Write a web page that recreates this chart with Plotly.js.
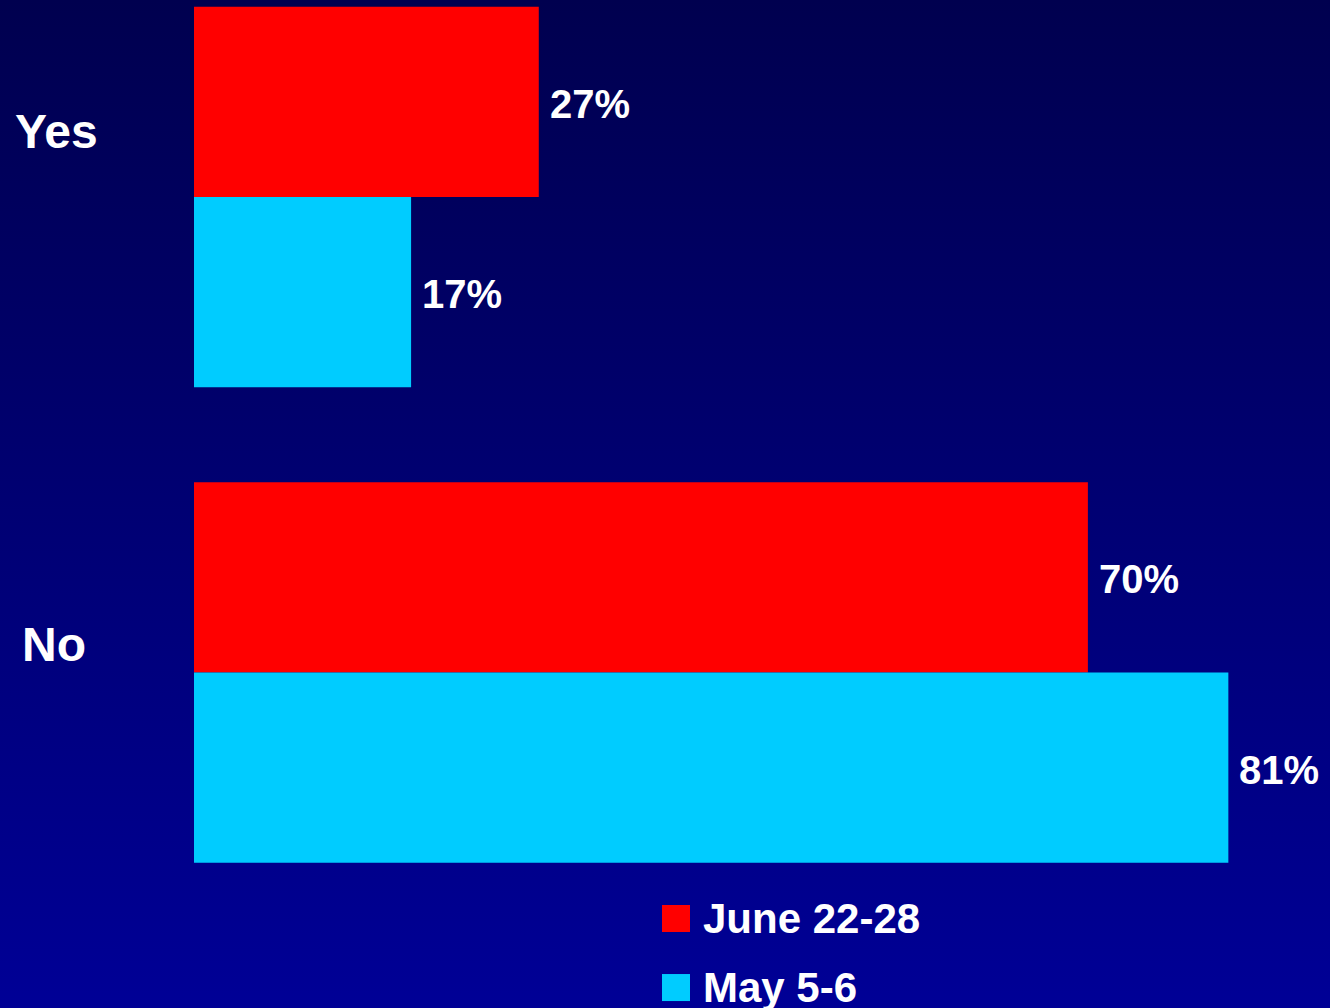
<!DOCTYPE html>
<html>
<head>
<meta charset="utf-8">
<script src="https://cdn.plot.ly/plotly-3.0.1.min.js"></script>
<style>
  html, body { margin: 0; padding: 0; }
  body { width: 1330px; height: 1008px; overflow: hidden; }
  #chart { width: 1330px; height: 1008px; background: linear-gradient(to bottom, #00004F 0%, #000096 100%); }
</style>
</head>
<body>
<div id="chart"></div>
<script>
// ---- data ----
const categories = ['Yes', 'No'];
const seriesNames = ['June 22-28', 'May 5-6'];
const juneValues = [27, 70];
const mayValues = [17, 81];
const seriesColors = ['#FF0000', '#00CCFF'];

const seriesValues = [juneValues, mayValues];
const FONT = 'Arial, "Liberation Sans", sans-serif';

const traces = seriesValues.map((vals, i) => ({
  type: 'bar',
  orientation: 'h',
  name: seriesNames[i],
  y: categories,
  x: vals,
  marker: { color: seriesColors[i], line: { width: 0 } },
  showlegend: false,
  hoverinfo: 'skip'
}));

const annotations = [];
// value labels, placed at each bar end through the axes
const offsets = [-0.2, 0.2];
seriesValues.forEach((vals, s) => {
  vals.forEach((v, c) => {
    annotations.push({
      x: v, y: c + offsets[s], xref: 'x', yref: 'y',
      text: v + '%', showarrow: false,
      xanchor: 'left', yanchor: 'middle', xshift: 9, yshift: -2,
      font: { family: FONT, size: 40, color: '#FFFFFF', weight: 'bold' }
    });
  });
});
// category labels
const catX = [-0.1595, -0.1530];
const catShift = [66, 28];
categories.forEach((c, i) => {
  annotations.push({
    x: catX[i], y: c, xref: 'paper', yref: 'y',
    text: c, showarrow: false, xanchor: 'left', yanchor: 'middle', yshift: catShift[i],
    font: { family: FONT, size: 48, color: '#FFFFFF', weight: 'bold' }
  });
});
// custom legend
const legY = [[0.0754, 0.1022], [0.0069, 0.0337]];
const shapes = [];
seriesNames.forEach((n, i) => {
  shapes.push({
    type: 'rect', xref: 'paper', yref: 'paper',
    x0: 0.41197, x1: 0.43662, y0: legY[i][0], y1: legY[i][1],
    fillcolor: seriesColors[i], line: { width: 0 }
  });
  annotations.push({
    x: 0.4463, y: (legY[i][0] + legY[i][1]) / 2, xref: 'paper', yref: 'paper',
    text: n, showarrow: false, xanchor: 'left', yanchor: 'middle',
    font: { family: FONT, size: 42, color: '#FFFFFF', weight: 'bold' }
  });
});

const layout = {
  width: 1330, height: 1008,
  margin: { l: 194, r: 0, t: 0, b: 0, pad: 0 },
  paper_bgcolor: 'rgba(0,0,0,0)',
  plot_bgcolor: 'rgba(0,0,0,0)',
  barmode: 'group',
  bargap: 0.2,
  bargroupgap: 0,
  showlegend: false,
  xaxis: { range: [0, 88.96], showgrid: false, zeroline: false, showticklabels: false, showline: false, ticks: '' },
  yaxis: { type: 'category', range: [1.7056, -0.4143], showgrid: false, zeroline: false, showticklabels: false, showline: false, ticks: '' },
  annotations: annotations,
  shapes: shapes,
  font: { family: FONT, color: '#FFFFFF' }
};

Plotly.newPlot('chart', traces, layout, { displayModeBar: false, staticPlot: true });
</script>
</body>
</html>
